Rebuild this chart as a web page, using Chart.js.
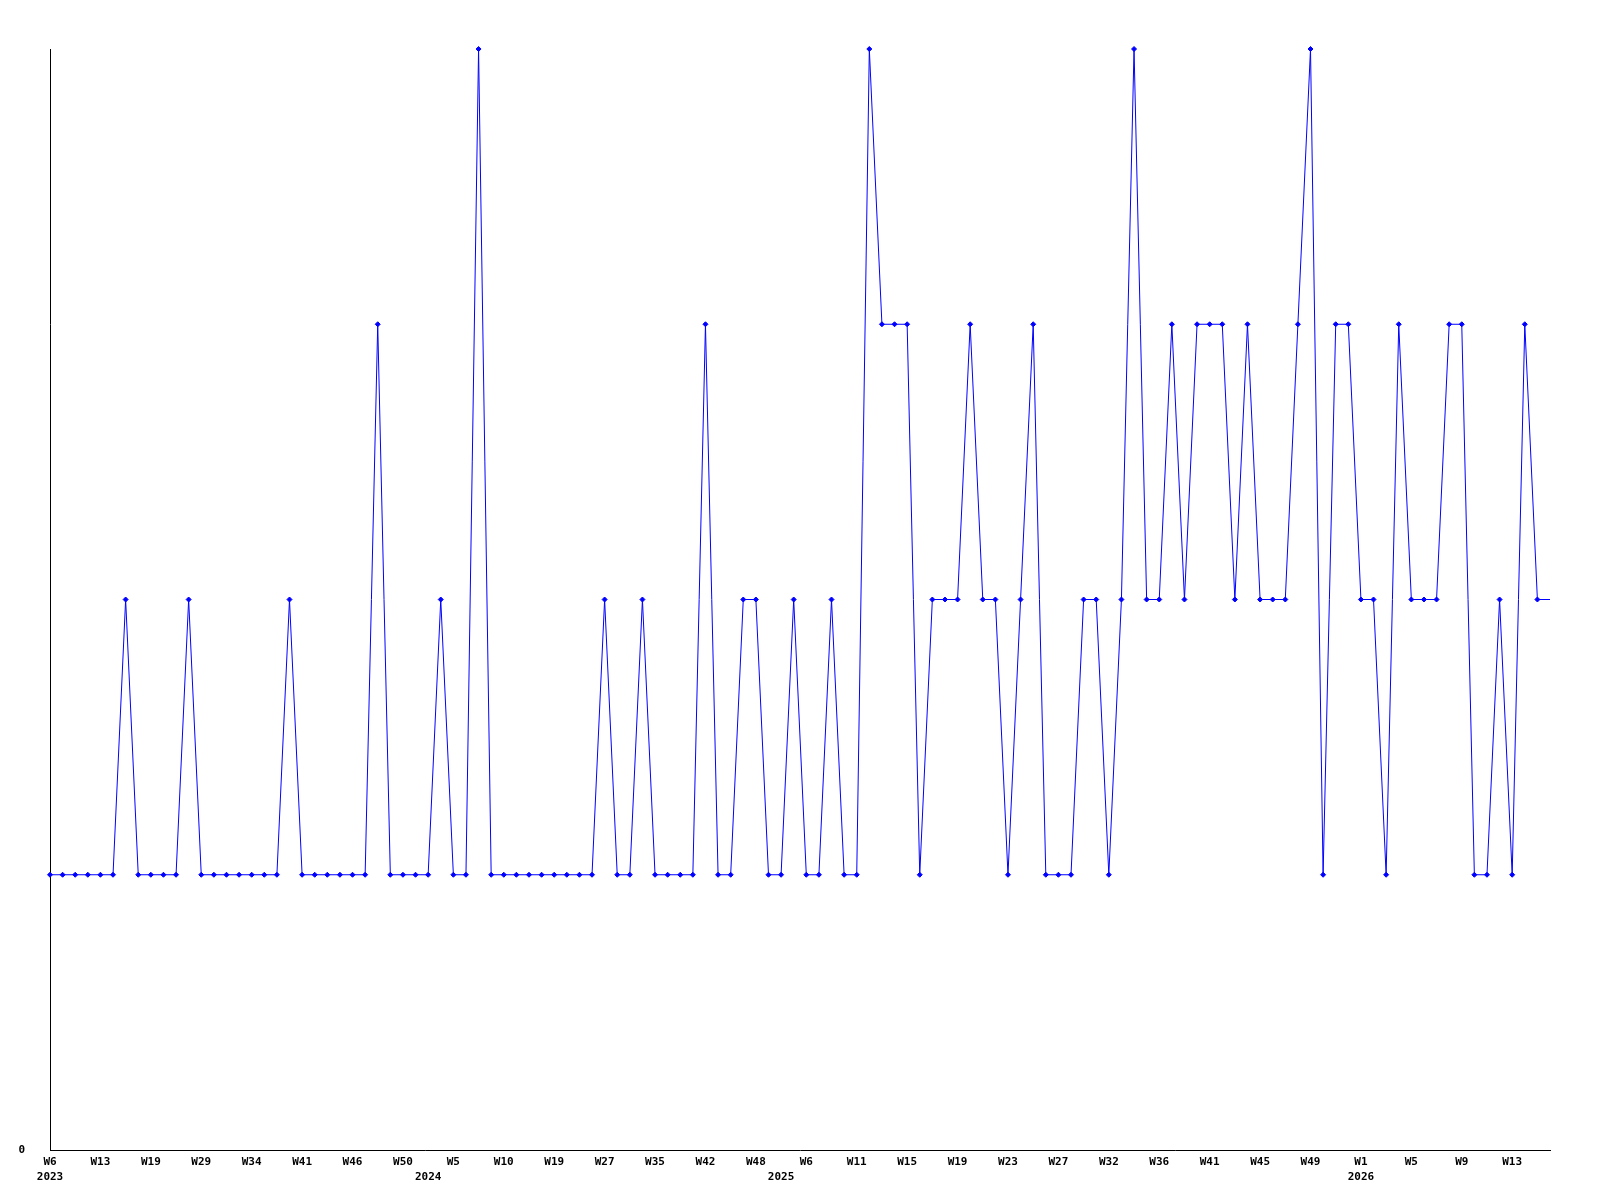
<!DOCTYPE html>
<html>
<head>
<meta charset="utf-8">
<script src="https://cdn.jsdelivr.net/npm/chart.js@4/dist/chart.umd.min.js"></script>
<style>
  html, body { margin: 0; padding: 0; background: #ffffff; }
  canvas { display: block; }
</style>
</head>
<body>
<canvas id="c" width="1600" height="1200"></canvas>
<script>
// Weekly values (one per data point, 120 points)
const values = [
  1,1,1,1,1,1,2,1,1,1,
  1,2,1,1,1,1,1,1,1,2,
  1,1,1,1,1,1,3,1,1,1,
  1,2,1,1,4,1,1,1,1,1,
  1,1,1,1,2,1,1,2,1,1,
  1,1,3,1,1,2,2,1,1,2,
  1,1,2,1,1,4,3,3,3,1,
  2,2,2,3,2,2,1,2,3,1,
  1,1,2,2,1,2,4,2,2,3,
  2,3,3,3,2,3,2,2,2,3,
  4,1,3,3,2,2,1,3,2,2,
  2,3,3,1,1,2,1,3,2,2
];

// Week tick labels, shown at every 4th point
const weekLabels = [
  'W6','W13','W19','W29','W34','W41','W46','W50','W5','W10',
  'W19','W27','W35','W42','W48','W6','W11','W15','W19','W23',
  'W27','W32','W36','W41','W45','W49','W1','W5','W9','W13'
];
const labelEvery = 4;

// Year labels (second tick line) and the point index where each appears
const yearIndex = [0, 30, 58, 104];
const yearText  = ['2023', '2024', '2025', '2026'];

// Y axis tick labels
const yTickLabels = { 0: '0' };

const categories = values.map((_, i) => (i % labelEvery === 0 ? weekLabels[i / labelEvery] : ''));

function tickText(i) {
  const w = categories[i] || '';
  const yi = yearIndex.indexOf(i);
  const y = yi >= 0 ? yearText[yi] : '';
  if (!w && !y) return '';
  return [w, y];
}

const pointRadii = values.map((_, i) => (i === values.length - 1 ? 0 : 2.5));

const font = { family: 'DejaVu Sans Mono', size: 11, weight: 'bold', lineHeight: 1.4 };

new Chart(document.getElementById('c'), {
  type: 'line',
  data: {
    labels: categories,
    datasets: [{
      data: values,
      borderColor: '#0000ff',
      backgroundColor: '#0000ff',
      borderWidth: 1,
      tension: 0,
      fill: false,
      pointStyle: 'rectRot',
      pointRadius: pointRadii,
      pointBorderWidth: 1,
      pointBackgroundColor: '#0000ff',
      pointBorderColor: '#0000ff',
      clip: false
    }]
  },
  options: {
    responsive: false,
    animation: false,
    devicePixelRatio: 1,
    layout: { padding: { top: 49, right: 50, left: 0, bottom: 0 } },
    plugins: { legend: { display: false }, tooltip: { enabled: false } },
    scales: {
      x: {
        type: 'category',
        offset: false,
        grid: { display: false, drawTicks: false },
        border: { display: true, color: '#000000', width: 1 },
        ticks: {
          autoSkip: false,
          maxRotation: 0,
          minRotation: 0,
          padding: 4,
          color: '#000000',
          font: font,
          callback: (v, i) => tickText(i)
        },
        afterFit: s => { s.height = 50; }
      },
      y: {
        min: 0,
        max: 4,
        grid: { display: false, drawTicks: false },
        border: { display: true, color: '#000000', width: 1 },
        ticks: {
          stepSize: 1,
          padding: 25,
          color: '#000000',
          font: font,
          callback: v => (yTickLabels[v] !== undefined ? yTickLabels[v] : '')
        },
        afterFit: s => { s.width = 50; }
      }
    }
  }
});
</script>
</body>
</html>
